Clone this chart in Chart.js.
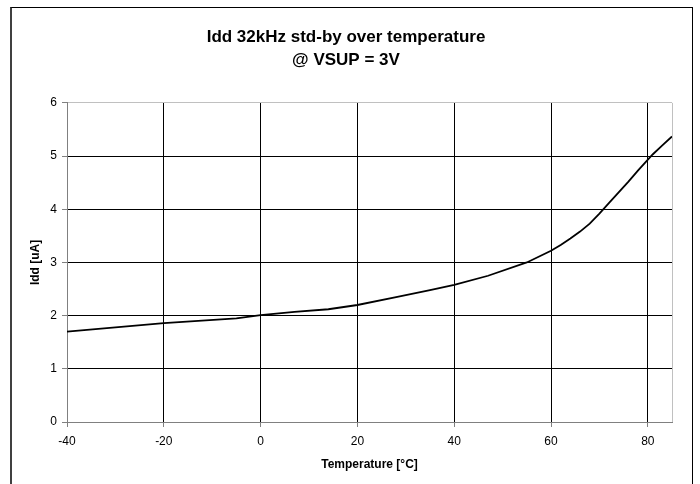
<!DOCTYPE html>
<html>
<head>
<meta charset="utf-8">
<script src="https://cdn.jsdelivr.net/npm/chart.js@4/dist/chart.umd.min.js"></script>
<style>
    html, body { margin: 0; padding: 0; background: #fff; overflow: hidden; }
    #wrap { position: relative; width: 700px; height: 484px; }
    #frame {
        position: absolute; left: 10px; top: 7px; width: 683px; height: 600px;
        box-sizing: border-box;
        border-left: 2px solid #404040; border-top: 1px solid #000; border-right: 1px solid #000;
    }
    #chart { position: absolute; left: 0; top: 0; }
</style>
</head>
<body>
<div id="wrap">
    <div id="frame"></div>
    <canvas id="chart" width="700" height="484"></canvas>
</div>
<script>
// Idd 32kHz standby current vs temperature
const temps = [-40, -20, -5, 0, 7, 14, 20, 28, 35, 40, 47, 55, 60, 62, 64, 66, 68, 70, 72, 76, 78, 81, 83, 85];
const iddValues = [1.70, 1.86, 1.95, 2.01, 2.07, 2.12, 2.20, 2.35, 2.48, 2.58, 2.75, 3.00, 3.22, 3.33, 3.45, 3.58, 3.73, 3.92, 4.12, 4.52, 4.73, 5.03, 5.20, 5.37];
const xTicks = [-40, -20, 0, 20, 40, 60, 80];
const yTicks = [0, 1, 2, 3, 4, 5, 6];

const FONT = "'Liberation Sans', Arial, sans-serif";
Chart.defaults.font.family = FONT;
Chart.defaults.color = "#000";

const points = temps.map((t, i) => ({ x: t, y: iddValues[i] }));

new Chart(document.getElementById("chart"), {
    type: "line",
    data: {
        datasets: [{
            label: "Idd",
            data: points,
            borderColor: "#000",
            borderWidth: 1.8,
            pointRadius: 0,
            tension: 0,
            fill: false
        }]
    },
    options: {
        responsive: false,
        animation: false,
        layout: { padding: { left: 20, right: 28, top: 0, bottom: 0 } },
        plugins: {
            legend: { display: false },
            tooltip: { enabled: false },
            title: {
                display: true,
                text: ["Idd 32kHz std-by over temperature", "@ VSUP = 3V"],
                font: { size: 17, weight: "bold", lineHeight: 1.35 },
                color: "#000",
                padding: { top: 26, bottom: 31 }
            }
        },
        scales: {
            x: {
                type: "linear",
                min: -40,
                max: 85,
                afterBuildTicks: scale => {
                    scale.ticks = xTicks.concat([85]).map(v => ({ value: v }));
                },
                afterFit: scale => { scale.height = 62; },
                ticks: {
                    font: { size: 12 },
                    color: "#000",
                    padding: 7,
                    maxRotation: 0,
                    callback: v => (xTicks.includes(v) ? v : "")
                },
                grid: {
                    color: ctx => (ctx.tick && ctx.tick.value === 85 ? "#c0c0c0" : "#000"),
                    tickColor: ctx => (ctx.tick && ctx.tick.value === 85 ? "rgba(0,0,0,0)" : "#808080"),
                    tickLength: 5,
                    lineWidth: 1
                },
                border: { color: "#808080", width: 1 },
                title: {
                    display: true,
                    text: "Temperature [°C]",
                    font: { size: 12, weight: "bold" },
                    color: "#000",
                    padding: { top: 0, bottom: 12 }
                }
            },
            y: {
                min: 0,
                max: 6,
                afterBuildTicks: scale => {
                    scale.ticks = yTicks.map(v => ({ value: v }));
                },
                afterFit: scale => { scale.width = 47; },
                ticks: {
                    font: { size: 12 },
                    color: "#000",
                    padding: 5
                },
                grid: {
                    color: ctx => (ctx.tick && ctx.tick.value === 6 ? "#c0c0c0" : "#000"),
                    tickColor: "#808080",
                    tickLength: 5,
                    lineWidth: 1
                },
                border: { color: "#808080", width: 1 },
                title: {
                    display: true,
                    text: "Idd [uA]",
                    font: { size: 12, weight: "bold" },
                    color: "#000",
                    padding: { top: 8, bottom: 0 }
                }
            }
        }
    }
});
</script>
</body>
</html>
